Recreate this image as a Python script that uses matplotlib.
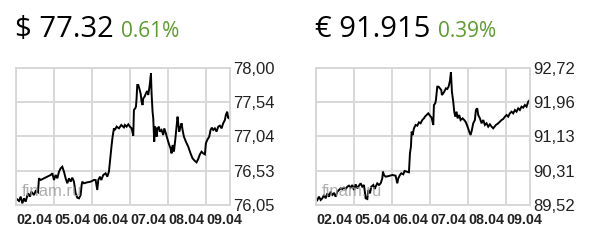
import matplotlib
matplotlib.use("Agg")
import matplotlib.pyplot as plt

# Доллар: положение во времени (дни от 02.04) и курс
usd_t = [0.0, 0.079, 0.123, 0.167, 0.211, 0.254, 0.316, 0.368, 0.403, 0.474, 0.518, 0.579,
         0.605, 0.649, 0.737, 0.825, 0.913, 0.956, 1.0, 1.044, 1.088, 1.132, 1.175, 1.219,
         1.263, 1.307, 1.351, 1.395, 1.439, 1.482, 1.526, 1.570, 1.614, 1.658, 1.702, 1.728,
         1.746, 1.789, 1.877, 1.965, 2.053, 2.096, 2.140, 2.167, 2.211, 2.246, 2.298, 2.360,
         2.404, 2.447, 2.491, 2.518, 2.544, 2.579, 2.605, 2.649, 2.711, 2.772, 2.842, 2.868,
         2.912, 2.956, 3.0, 3.044, 3.088, 3.105, 3.140, 3.158, 3.175, 3.193, 3.219, 3.246,
         3.281, 3.307, 3.333, 3.351, 3.386, 3.421, 3.456, 3.482, 3.509, 3.526, 3.553, 3.570,
         3.596, 3.614, 3.640, 3.658, 3.684, 3.702, 3.728, 3.763, 3.789, 3.833, 3.877, 3.904,
         3.947, 3.982, 4.035, 4.070, 4.096, 4.123, 4.158, 4.193, 4.228, 4.254, 4.272, 4.298,
         4.333, 4.360, 4.386, 4.421, 4.474, 4.535, 4.596, 4.649, 4.711, 4.754, 4.798, 4.842,
         4.886, 4.930, 4.974, 5.0, 5.035, 5.088, 5.123, 5.158, 5.193, 5.237, 5.281, 5.325,
         5.368, 5.412, 5.456, 5.500, 5.526, 5.561, 5.588, 5.614, 5.635]
usd = [76.145, 76.107, 76.169, 76.074, 76.145, 76.097, 76.216, 76.169, 76.240, 76.192, 76.249, 76.230,
       76.430, 76.406, 76.430, 76.453, 76.477, 76.501, 76.406, 76.477, 76.430, 76.524, 76.572, 76.595,
       76.524, 76.430, 76.359, 76.430, 76.382, 76.439, 76.382, 76.216, 76.154, 76.145, 76.192, 76.335,
       76.382, 76.359, 76.373, 76.382, 76.406, 76.406, 76.264, 76.406, 76.453, 76.406, 76.477, 76.501,
       76.453, 76.524, 76.762, 76.904, 77.022, 77.141, 77.118, 77.165, 77.141, 77.189, 77.155, 77.189,
       77.165, 77.198, 77.165, 77.141, 77.037, 77.402, 77.426, 77.450, 77.568, 77.758, 77.758, 77.710,
       77.639, 77.521, 77.473, 77.568, 77.592, 77.639, 77.673, 77.616, 77.710, 77.782, 77.924, 77.639,
       77.379, 77.284, 76.952, 77.165, 77.141, 77.023, 77.141, 77.165, 77.094, 77.118, 77.046, 77.141,
       77.070, 76.999, 76.904, 76.857, 76.785, 76.904, 76.809, 76.975, 77.165, 77.307, 77.213, 77.094,
       77.165, 77.213, 77.118, 77.023, 76.952, 76.880, 76.785, 76.714, 76.676, 76.657, 76.705, 76.771,
       76.809, 76.785, 76.771, 76.928, 76.975, 77.023, 77.118, 77.151, 77.118, 77.141, 77.094, 77.165,
       77.179, 77.141, 77.213, 77.260, 77.331, 77.378, 77.284, 77.307, 77.260]

# Евро
eur_t = [0.0, 0.035, 0.079, 0.123, 0.167, 0.211, 0.254, 0.298, 0.342, 0.386, 0.430, 0.474,
         0.518, 0.561, 0.605, 0.649, 0.693, 0.737, 0.781, 0.825, 0.868, 0.912, 0.956, 1.0,
         1.044, 1.088, 1.132, 1.175, 1.219, 1.263, 1.307, 1.351, 1.377, 1.421, 1.456, 1.509,
         1.544, 1.570, 1.614, 1.658, 1.702, 1.746, 1.763, 1.789, 1.833, 1.921, 2.009, 2.096,
         2.140, 2.167, 2.211, 2.246, 2.298, 2.333, 2.386, 2.447, 2.474, 2.500, 2.518, 2.544,
         2.579, 2.623, 2.667, 2.711, 2.754, 2.798, 2.842, 2.868, 2.912, 2.956, 3.0, 3.044,
         3.088, 3.105, 3.140, 3.158, 3.193, 3.228, 3.263, 3.298, 3.316, 3.351, 3.386, 3.421,
         3.456, 3.491, 3.526, 3.553, 3.579, 3.614, 3.640, 3.667, 3.702, 3.728, 3.772, 3.807,
         3.860, 3.904, 3.947, 3.991, 4.035, 4.070, 4.105, 4.140, 4.184, 4.211, 4.246, 4.272,
         4.316, 4.360, 4.404, 4.447, 4.491, 4.535, 4.579, 4.623, 4.667, 4.737, 4.798, 4.842,
         4.886, 4.930, 4.974, 5.018, 5.061, 5.105, 5.149, 5.193, 5.237, 5.281, 5.325, 5.368,
         5.412, 5.456, 5.500, 5.544, 5.588, 5.632]
eur = [89.676, 89.637, 89.715, 89.637, 89.676, 89.754, 89.676, 89.792, 89.715, 89.831, 89.754, 89.792,
       89.715, 89.831, 89.870, 89.909, 89.894, 89.925, 89.894, 89.948, 89.972, 89.925, 89.987, 89.870,
       90.003, 89.909, 89.972, 90.026, 89.948, 89.987, 89.676, 89.660, 89.870, 89.792, 89.948, 89.987,
       89.894, 89.948, 90.026, 89.987, 90.026, 90.143, 90.299, 90.221, 90.182, 90.197, 90.221, 90.205,
       90.026, 90.143, 90.221, 90.260, 90.236, 90.314, 90.299, 90.283, 90.727, 90.883, 91.233, 91.155,
       91.311, 91.389, 91.373, 91.451, 91.428, 91.505, 91.544, 91.583, 91.622, 91.661, 91.607, 91.560,
       91.389, 91.856, 91.895, 91.973, 92.284, 92.284, 92.245, 92.206, 92.089, 92.128, 92.183, 92.245,
       92.230, 92.284, 92.416, 92.619, 92.167, 91.934, 91.700, 91.583, 91.700, 91.544, 91.622, 91.505,
       91.544, 91.505, 91.451, 91.350, 91.233, 91.155, 91.272, 91.428, 91.505, 91.739, 91.778, 91.622,
       91.544, 91.428, 91.505, 91.389, 91.428, 91.350, 91.404, 91.350, 91.311, 91.389, 91.428, 91.467,
       91.505, 91.529, 91.583, 91.622, 91.583, 91.661, 91.700, 91.661, 91.739, 91.700, 91.778, 91.739,
       91.817, 91.794, 91.856, 91.817, 91.934, 91.973]

day_labels = ["02.04", "05.04", "06.04", "07.04", "08.04", "09.04"]
usd_ticks = ["76,05", "76,53", "77,04", "77,54", "78,00"]
eur_ticks = ["89,52", "90,31", "91,13", "91,96", "92,72"]
usd_range = (76.05, 78.00)
eur_range = (89.52, 92.72)

titles = [("$ 77.32", "0.61%"), ("€ 91.915", "0.39%")]

fig = plt.figure(figsize=(6.0, 2.41), dpi=100)
fig.patch.set_facecolor("white")

grid_c = "#d6d6d6"
panels = [
    (16, usd_t, usd, usd_range, usd_ticks, titles[0], 121),
    (316, eur_t, eur, eur_range, eur_ticks, titles[1], 438),
]

for left_px, t, v, yr, ylabels, (big, pct), pct_px in panels:
    ax = fig.add_axes([left_px / 600, 36 / 241, 214 / 600, 137 / 241])
    ax.plot(t, v, color="black", lw=1.4, solid_joinstyle="miter")
    ax.set_xlim(0, 5.635)
    ax.set_ylim(*yr)
    ax.set_xticks(range(len(day_labels)))
    ax.set_xticklabels(day_labels, ha="left", family=["Liberation Sans", "DejaVu Sans"],
                       fontsize=10.3, fontweight="bold", color="#222222")
    step = (yr[1] - yr[0]) / (len(ylabels) - 1)
    ax.set_yticks([yr[0] + i * step for i in range(len(ylabels))])
    ax.set_yticklabels(ylabels, family=["Liberation Sans", "DejaVu Sans"], fontsize=12,
                       color="#222222")
    ax.yaxis.tick_right()
    ax.tick_params(axis="y", length=0, pad=2.5)
    ax.tick_params(axis="x", length=0, pad=6)
    ax.grid(True, color=grid_c, lw=1.3)
    ax.set_axisbelow(True)
    for s in ax.spines.values():
        s.set_color(grid_c)
        s.set_linewidth(1.3)
    ax.text(0.027, 0.097, "finam.ru", transform=ax.transAxes, fontsize=12,
            family=["Liberation Sans", "DejaVu Sans"], color="#9a9a9a", alpha=0.8,
            va="center", ha="left", zorder=5)

    fig.text((left_px - 1) / 600, 1 - 37 / 241, big, fontsize=21, family=["Open Sans", "DejaVu Sans"],
             color="black", va="baseline", ha="left")
    fig.text(pct_px / 600, 1 - 37 / 241, pct, fontsize=15, family=["Open Sans", "DejaVu Sans"],
             color="#5d9b2d", va="baseline", ha="left")

fig.savefig("out.png", dpi=100)
